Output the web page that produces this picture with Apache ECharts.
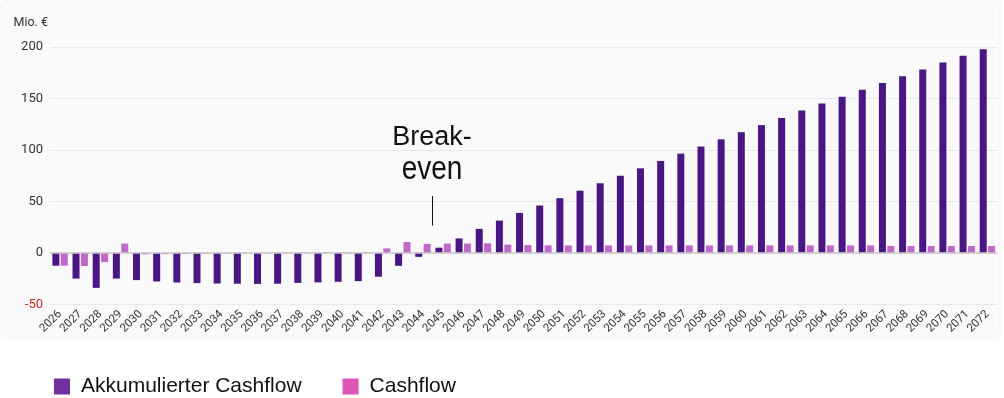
<!DOCTYPE html>
<html>
<head>
<meta charset="utf-8">
<script src="https://cdn.jsdelivr.net/npm/echarts@6/dist/echarts.min.js"></script>
<style>
html,body{margin:0;padding:0;background:#fff;}
#c{width:1004px;height:398px;}
</style>
</head>
<body>
<div id="c"></div>
<script>
const years = ['2026','2027','2028','2029','2030','2031','2032','2033','2034','2035','2036','2037','2038','2039','2040','2041','2042','2043','2044','2045','2046','2047','2048','2049','2050','2051','2052','2053','2054','2055','2056','2057','2058','2059','2060','2061','2062','2063','2064','2065','2066','2067','2068','2069','2070','2071','2072'];
const accumulated = [-12.5,-25,-34,-25,-26.5,-27.8,-28.8,-29.4,-29.8,-30,-30.2,-30,-29.2,-28.7,-28.1,-27.5,-23.2,-12.6,-3.9,5,14,23.3,31.3,38.8,46,53.1,60.4,67.6,74.9,82.1,89.3,96.4,103.3,110.3,117.2,124.1,131.1,138.2,145,151.7,158.4,165.1,171.7,178.2,184.9,191.4,197.9];
const cashflow = [-12.5,-12.8,-9,9,-1.5,-1.3,-1,-0.6,-0.4,-0.3,-0.2,0.3,0.7,0.6,0.6,0.6,4.3,10.5,8.7,9,9,9.3,8,7.5,7.3,7.2,7.2,7.2,7.2,7.2,7.2,7.2,7.2,7.2,7.2,7.2,7.2,7.2,7.2,7.2,7.2,6.6,6.6,6.6,6.6,6.6,6.6];
const yTicks = {min:-50, max:200, interval:50};
const seriesNames = ['Akkumulierter Cashflow','Cashflow'];
const annotation = ['Break-','even'];

const chart = echarts.init(document.getElementById('c'), null, {renderer:'canvas'});
const axisFont = 'Roboto, "Noto Sans", sans-serif';
const helv = '"Liberation Sans", Arial, sans-serif';
chart.setOption({
  animation:false,
  backgroundColor:'#ffffff',
  graphic:[
    {type:'rect', z:-10, silent:true, shape:{x:2,y:2,width:997,height:335,r:3},
     style:{fill:'#fafafa', shadowBlur:4, shadowColor:'rgba(0,0,0,0.10)'}},
    {type:'text', z:10, x:432, y:137.5, silent:true,
     style:{text:annotation[0], font:'27px '+helv, fill:'#111', align:'center', verticalAlign:'middle'}},
    {type:'text', z:10, x:432, y:170, scaleY:1.2, silent:true,
     style:{text:annotation[1], font:'28px '+helv, fill:'#111', align:'center', verticalAlign:'middle'}},
    {type:'line', z:10, silent:true, shape:{x1:432.5,y1:196,x2:432.5,y2:225.5},
     style:{stroke:'#111', lineWidth:1}}
  ],
  grid:{left:50, right:6.5, top:47, bottom:93.7, containLabel:false},
  legend:{
    left:54, top:376, padding:0, itemWidth:16, itemHeight:16, itemGap:41, icon:'rect',
    textStyle:{fontFamily:helv, fontSize:21, color:'#111', padding:[0,0,0,6]},
    data:[
      {name:seriesNames[0], itemStyle:{color:'#7030a0'}},
      {name:seriesNames[1], itemStyle:{color:'#e055b8'}}
    ]
  },
  xAxis:{
    type:'category', data:years,
    axisLine:{show:false}, axisTick:{show:false},
    axisLabel:{interval:0, rotate:45, fontFamily:axisFont, fontSize:11.5, color:'#333', margin:8}
  },
  yAxis:{
    type:'value', min:yTicks.min, max:yTicks.max, interval:yTicks.interval,
    name:'Mio. €', nameLocation:'end', nameGap:18,
    nameTextStyle:{fontFamily:axisFont, fontSize:12.5, color:'#333', align:'right', padding:[0,2,0,0]},
    axisLine:{show:false}, axisTick:{show:false},
    splitLine:{lineStyle:{color:'#e3e8f3', width:1}},
    axisLabel:{fontFamily:axisFont, fontSize:13, margin:7,
      color:function(v){ return Number(v) < 0 ? '#e02424' : '#333'; }}
  },
  series:[
    {name:seriesNames[0], type:'bar', data:accumulated, barWidth:7, barGap:'20%',
     itemStyle:{color:'#4a1587'},
     markLine:{silent:true, symbol:'none', label:{show:false},
       lineStyle:{color:'#c9c9c9', width:1.5, type:'solid'}, data:[{yAxis:0}]}},
    {name:seriesNames[1], type:'bar', data:cashflow, barWidth:7, barGap:'20%',
     itemStyle:{color:'#c167c9'}}
  ]
});
</script>
</body>
</html>
